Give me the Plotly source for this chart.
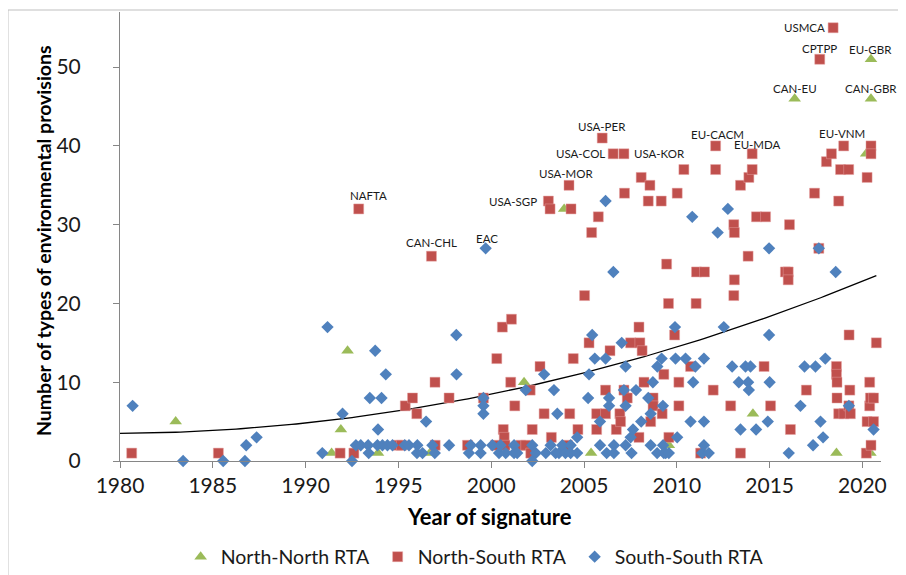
import plotly.graph_objects as go

# ---------------- data ----------------
NN_YEARS = [1983.0, 1991.4, 1991.9, 1992.26, 1993.9, 1996.7, 2001.77, 2003.93, 2005.38,
            2009.57, 2014.1, 2016.35, 2018.6, 2020.2, 2020.43, 2020.46, 2020.46]
NN_VALUES = [5, 1, 4, 14, 1, 1, 10, 32, 1,
             2, 6, 46, 1, 39, 1, 46, 51]

NS_YEARS = [1980.63, 1985.3, 1991.86, 1992.6, 1992.86, 1994.95, 1995.16, 1995.37, 1995.76, 1995.99,
            1996.78, 1996.97, 1996.98, 1997.73, 1998.72, 1999.58, 2000.24, 2000.3, 2000.6, 2000.65,
            2000.7, 2000.74, 2001.05, 2001.09, 2001.27, 2001.59, 2001.86, 2002.1, 2002.13, 2002.21,
            2002.63, 2002.85, 2003.08, 2003.17, 2003.24, 2004.1, 2004.19, 2004.23, 2004.3, 2004.42,
            2004.67, 2005.03, 2005.27, 2005.41, 2005.68, 2005.68, 2005.77, 2005.98, 2006.16, 2006.16,
            2006.4, 2006.57, 2006.74, 2006.93, 2006.97, 2007.15, 2007.15, 2007.18, 2007.33, 2007.51,
            2007.96, 2007.96, 2008.01, 2008.08, 2008.13, 2008.23, 2008.46, 2008.55, 2008.59, 2008.72,
            2008.72, 2009.16, 2009.21, 2009.3, 2009.45, 2009.55, 2009.57, 2009.88, 2010.02, 2010.11,
            2010.11, 2010.38, 2010.74, 2011.04, 2011.06, 2011.28, 2011.49, 2011.96, 2012.09, 2012.09,
            2012.9, 2013.07, 2013.07, 2013.1, 2013.1, 2013.43, 2013.43, 2013.84, 2013.88, 2014.06,
            2014.06, 2014.29, 2014.7, 2014.78, 2015.05, 2015.85, 2016.0, 2016.0, 2016.07, 2016.12,
            2016.98, 2017.42, 2017.65, 2017.7, 2018.06, 2018.33, 2018.42, 2018.6, 2018.6, 2018.63,
            2018.63, 2018.72, 2018.72, 2018.82, 2018.99, 2019.0, 2019.26, 2019.27, 2019.28, 2019.32,
            2019.35, 2020.21, 2020.25, 2020.25, 2020.39, 2020.39, 2020.43, 2020.46, 2020.46, 2020.46,
            2020.6, 2020.6, 2020.75]
NS_VALUES = [1, 1, 1, 1, 32, 2, 2, 7, 8, 6,
             26, 10, 2, 8, 2, 8, 2, 13, 17, 4,
             3, 2, 10, 18, 7, 2, 2, 9, 1, 4,
             12, 6, 33, 32, 3, 2, 35, 6, 32, 13,
             4, 21, 15, 29, 6, 4, 31, 41, 6, 9,
             14, 39, 4, 6, 5, 39, 9, 34, 8, 15,
             3, 17, 15, 36, 14, 10, 33, 35, 5, 8,
             7, 33, 6, 11, 25, 20, 3, 16, 34, 10,
             7, 37, 12, 20, 24, 1, 24, 9, 40, 37,
             7, 30, 21, 29, 23, 35, 1, 26, 36, 39,
             37, 31, 12, 31, 7, 24, 24, 23, 30, 4,
             9, 34, 27, 51, 38, 39, 55, 12, 11, 10,
             8, 33, 6, 37, 40, 6, 37, 7, 16, 9,
             6, 1, 36, 5, 10, 7, 8, 40, 39, 2,
             8, 5, 15]

SS_YEARS = [1980.68, 1983.4, 1985.56, 1986.73, 1986.8, 1987.36, 1990.9, 1991.18, 1991.99, 1992.5,
            1992.71, 1992.97, 1993.37, 1993.4, 1993.46, 1993.75, 1993.87, 1993.9, 1994.09, 1994.14,
            1994.32, 1994.41, 1994.68, 1995.34, 1995.57, 1996.0, 1996.02, 1996.3, 1996.49, 1996.83,
            1996.96, 1997.73, 1998.12, 1998.13, 1998.8, 1998.9, 1999.43, 1999.43, 1999.58, 1999.58,
            1999.58, 1999.7, 2000.06, 2000.42, 2000.5, 2000.78, 2001.23, 2001.23, 2001.4, 2001.86,
            2002.21, 2002.21, 2002.4, 2002.85, 2002.94, 2003.2, 2003.38, 2003.47, 2003.56, 2003.65,
            2003.83, 2004.0, 2004.28, 2004.28, 2004.63, 2004.63, 2005.22, 2005.27, 2005.44, 2005.58,
            2005.86, 2005.86, 2006.16, 2006.16, 2006.22, 2006.35, 2006.35, 2006.58, 2006.61, 2006.61,
            2007.03, 2007.15, 2007.24, 2007.24, 2007.24, 2007.51, 2007.56, 2007.64, 2007.8, 2008.08,
            2008.46, 2008.59, 2008.59, 2008.71, 2008.94, 2008.95, 2009.18, 2009.25, 2009.26, 2009.3,
            2009.4, 2009.57, 2009.9, 2009.93, 2010.02, 2010.47, 2010.74, 2010.83, 2010.88, 2011.0,
            2011.37, 2011.46, 2011.46, 2011.46, 2011.72, 2012.2, 2012.53, 2012.75, 2012.98, 2013.34,
            2013.43, 2013.7, 2013.84, 2013.88, 2013.97, 2014.27, 2014.9, 2014.97, 2014.97, 2015.0,
            2016.03, 2016.66, 2016.88, 2017.34, 2017.47, 2017.65, 2017.74, 2017.88, 2018.0, 2018.56,
            2019.27, 2020.6]
SS_VALUES = [7, 0, 0, 0, 2, 3, 1, 17, 6, 0,
             2, 2, 2, 1, 8, 14, 2, 4, 8, 2,
             11, 2, 2, 2, 2, 1, 2, 1, 5, 2,
             1, 2, 16, 11, 1, 2, 2, 1, 8, 7,
             6, 27, 2, 1, 2, 1, 2, 1, 1, 9,
             2, 0, 1, 11, 1, 2, 9, 1, 6, 1,
             2, 1, 2, 1, 3, 1, 8, 11, 16, 13,
             5, 2, 13, 33, 1, 8, 7, 24, 2, 1,
             15, 9, 12, 7, 2, 3, 1, 4, 9, 5,
             8, 6, 2, 10, 1, 12, 13, 7, 2, 1,
             1, 1, 17, 13, 3, 13, 5, 31, 10, 12,
             1, 13, 5, 2, 1, 29, 17, 32, 12, 10,
             4, 12, 10, 9, 12, 4, 5, 27, 16, 10,
             1, 7, 12, 2, 12, 27, 5, 3, 13, 24,
             7, 4]

# labelled agreements (name, year, value) - same points as in the series above
LABEL_NAMES = ["NAFTA", "CAN-CHL", "EAC", "USA-SGP", "USA-MOR", "USA-PER", "USA-COL", "USA-KOR",
               "EU-CACM", "EU-MDA", "USMCA", "CPTPP", "EU-GBR", "CAN-EU", "CAN-GBR", "EU-VNM"]
LABEL_YEARS = [1992.86, 1996.78, 1999.7, 2003.08, 2004.19, 2005.98, 2006.57, 2007.15,
               2012.09, 2014.06, 2018.42, 2017.7, 2020.46, 2016.35, 2020.46, 2018.99]
LABEL_VALUES = [32, 26, 27, 33, 35, 41, 39, 39, 40, 39, 55, 51, 51, 46, 46, 40]

# polynomial trend line: value = c0 + c1*t + c2*t^2, t = year - 1980
TREND_COEFS = [3.5, 0.0152, 0.011685]
TREND_YEARS = [1980 + i * 0.25 for i in range(0, 164)]

X_TICKS = [1980, 1985, 1990, 1995, 2000, 2005, 2010, 2015, 2020]
Y_TICKS = [0, 10, 20, 30, 40, 50]

# ---------------- styling ----------------
FONT = "Lato, 'Open Sans', sans-serif"
GREEN, RED, BLUE = "#9BBB59", "#C0504D", "#4F81BD"
AXIS = "#868686"

# label offsets in pixels (xshift, yshift)
LABEL_SHIFTS = {
    "NAFTA": (10, 13), "CAN-CHL": (0, 14), "EAC": (1, 10), "USA-SGP": (-35, 0),
    "USA-MOR": (-3, 12), "USA-PER": (0, 12), "USA-COL": (-33, 0), "USA-KOR": (36, 0),
    "EU-CACM": (2, 11), "EU-MDA": (5, 9), "USMCA": (-29, 0), "CPTPP": (0, 11),
    "EU-GBR": (0, 10), "CAN-EU": (0, 10), "CAN-GBR": (0, 10), "EU-VNM": (-2, 12),
}

fig = go.Figure()

trend_vals = [TREND_COEFS[0] + TREND_COEFS[1] * (y - 1980) + TREND_COEFS[2] * (y - 1980) ** 2
              for y in TREND_YEARS]
trend_x = [y for y in TREND_YEARS if y <= 2020.8]
fig.add_trace(go.Scatter(x=trend_x, y=trend_vals[:len(trend_x)], mode="lines",
                         line=dict(color="#000000", width=1.3), showlegend=False,
                         hoverinfo="skip"))

fig.add_trace(go.Scatter(x=NN_YEARS, y=NN_VALUES, mode="markers", name="North-North RTA",
                         marker=dict(symbol="triangle-up", size=11, color=GREEN),
                         cliponaxis=False))
fig.add_trace(go.Scatter(x=NS_YEARS, y=NS_VALUES, mode="markers", name="North-South RTA",
                         marker=dict(symbol="square", size=10, color=RED,
                                     line=dict(color="rgba(230,160,160,0.6)", width=0.8)),
                         cliponaxis=False))
fig.add_trace(go.Scatter(x=SS_YEARS, y=SS_VALUES, mode="markers", name="South-South RTA",
                         marker=dict(symbol="diamond", size=9.5, color=BLUE),
                         cliponaxis=False))

annotations = []
for name, yr, val in zip(LABEL_NAMES, LABEL_YEARS, LABEL_VALUES):
    dx, dy = LABEL_SHIFTS[name]
    annotations.append(dict(x=yr, y=val, xref="x", yref="y", text=name, showarrow=False,
                            xshift=dx, yshift=dy, xanchor="center", yanchor="middle",
                            font=dict(family=FONT, size=11.5, color="#1a1a1a")))

# axis titles
annotations.append(dict(x=0.486, y=-0.1247, xref="paper", yref="paper",
                        text="<b>Year of signature</b>", showarrow=False,
                        xanchor="center", yanchor="middle",
                        font=dict(family=FONT, size=22, color="#000000")))
annotations.append(dict(x=-0.1012, y=0.492, xref="paper", yref="paper",
                        text="<b>Number of types of environmental provisions</b>",
                        showarrow=False, textangle=-90, xanchor="center", yanchor="middle",
                        font=dict(family=FONT, size=19.5, color="#000000")))

# the page body adds an 8px offset, so the figure margins are reduced by 8px
fig.update_layout(
    width=906, height=575,
    margin=dict(l=112, r=33, t=4, b=122, autoexpand=False),
    paper_bgcolor="white", plot_bgcolor="white",
    font=dict(family=FONT, color="#1a1a1a"),
    showlegend=True,
    legend=dict(orientation="h", x=0.468, y=-0.2138, xanchor="center", yanchor="middle",
                font=dict(family=FONT, size=19.5, color="#1a1a1a"),
                itemwidth=30, entrywidth=152, entrywidthmode="pixels", tracegroupgap=0),
    annotations=annotations,
    shapes=[
        dict(type="line", xref="paper", yref="paper", x0=-0.1472, x1=1.1, y0=1.00445, y1=1.00445,
             line=dict(color="#BFBFBF", width=1)),
        dict(type="line", xref="paper", yref="paper", x0=-0.1472, x1=-0.1472, y0=1.00445, y1=-0.3,
             line=dict(color="#BFBFBF", width=1)),
    ],
)

fig.update_xaxes(range=[1980, 2021], tickvals=X_TICKS, ticktext=[str(v) for v in X_TICKS],
                 showgrid=False, zeroline=False, showline=True, linecolor=AXIS, linewidth=1,
                 ticks="outside", ticklen=6, tickcolor=AXIS,
                 tickfont=dict(family=FONT, size=21, color="#1a1a1a"))
fig.update_yaxes(range=[0, 57], tickvals=Y_TICKS, showgrid=False, zeroline=False,
                 showline=True, linecolor=AXIS, linewidth=1,
                 ticks="outside", ticklen=6, tickcolor=AXIS, ticklabelstandoff=28,
                 tickfont=dict(family=FONT, size=21, color="#1a1a1a"))

fig.write_html("out.html")
